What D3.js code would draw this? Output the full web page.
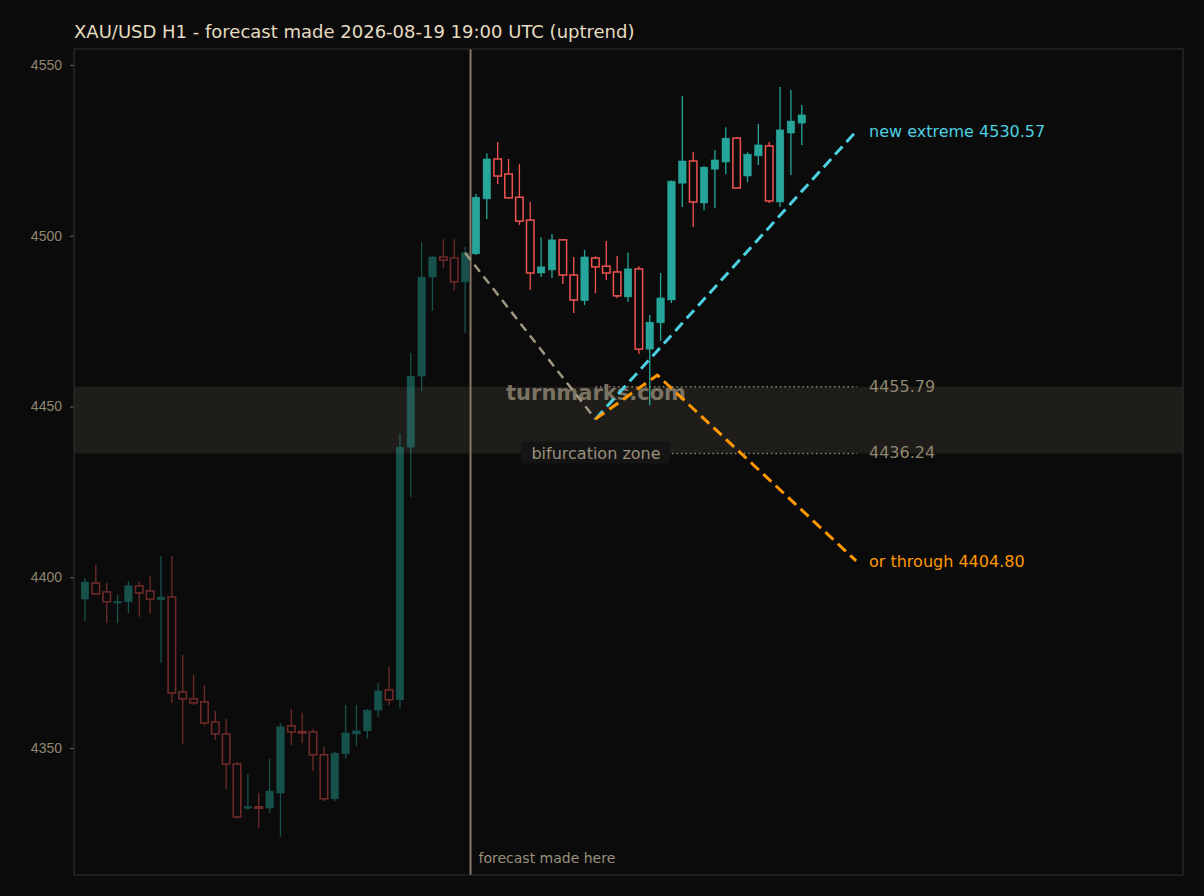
<!DOCTYPE html>
<html><head><meta charset="utf-8">
<script src="https://cdn.jsdelivr.net/npm/d3@7"></script>
<style>body{margin:0;background:#0b0b0b;}</style>
</head><body>
<script>
// OHLC candles, hourly
const opens  = [4393.6,4398.3,4395.7,4392.5,4392.8,4397.5,4396,4393.4,4394.2,4366.4,4364.4,4363.5,4357.6,4354.1,4345.3,4332.5,4332.8,4332.4,4336.8,4356.5,4354.8,4354.7,4348,4335.1,4348.3,4354.1,4355,4361.1,4367,4364.1,4438.1,4458.9,4487.9,4493.8,4493.5,4486.5,4494.7,4510.8,4522.5,4518.1,4511.3,4504.6,4489.1,4490,4498.8,4488.5,4481,4493.5,4491.1,4489.4,4482.1,4490.3,4466.8,4474.5,4481.2,4515.4,4521.9,4509.6,4519.5,4521.6,4528.6,4517.5,4523.4,4526.3,4509.9,4530.1,4533];
const highs  = [4399.8,4403.6,4398.3,4394.8,4398.9,4398.6,4400.4,4406.2,4406.2,4377.2,4371.4,4368.2,4360.8,4358.5,4345.9,4342.4,4336.8,4346.8,4357.3,4361.4,4360.3,4355.6,4350.3,4349,4362.6,4362.6,4361.4,4369,4373.7,4442,4465.7,4498.2,4494,4499,4499,4496.7,4512.2,4524.2,4527.5,4522.5,4521,4509.9,4499.6,4500.5,4499,4493.8,4495.8,4494,4498.5,4494.1,4495,4491.1,4476.8,4489.1,4516.2,4540.9,4524.5,4520.4,4525.1,4531.8,4528.9,4524.5,4532.7,4527.5,4543.6,4542.7,4538.3];
const lows   = [4387.2,4394.8,4386.6,4386.6,4389.5,4388.4,4389.2,4374.9,4363.2,4351.2,4362.6,4356.5,4352.4,4338,4329.2,4331.9,4326.6,4331,4324,4350.9,4351.5,4343.3,4334.5,4334.5,4346.8,4350.6,4352.9,4359.1,4362.6,4361.7,4423.5,4454.5,4478,4490.6,4484.1,4471.5,4494.4,4504.9,4515.2,4511,4503.2,4484.1,4487.9,4487.6,4485.9,4477.4,4479.7,4483.2,4487,4481.8,4480.6,4465.4,4450.4,4469.2,4480.3,4508.4,4502.6,4507.5,4508.1,4518.1,4514,4515.7,4520.7,4509.6,4508.4,4517.8,4526.6];
const closes = [4398.6,4395.1,4392.8,4392.9,4397.5,4395.4,4393.6,4394.2,4366.1,4364.4,4363.2,4357.3,4354.1,4345.3,4329.8,4332.8,4332.5,4337.4,4356.2,4354.7,4354.5,4348,4335.1,4348.5,4354.4,4355,4361.1,4366.7,4364.1,4438.1,4458.9,4487.9,4493.8,4492.9,4486.5,4495,4511.3,4522.5,4517.5,4511.1,4504.3,4489.1,4490.9,4498.8,4488.5,4481.2,4493.8,4490.9,4489.1,4482.4,4490.3,4466.8,4474.7,4481.8,4516,4521.9,4509.9,4520.1,4522.2,4528.6,4514,4523.9,4526.6,4510.2,4531,4533.6,4535.4];
const forecastIndex = 35.5;
const pathBase = [[35, 4495], [47, 4446.3]];
const pathUp = [[47, 4446.3], [71, 4530.57]];
const pathDown = [[47, 4446.3], [52.7, 4459.2], [71, 4404.80]];
const zoneLow = 4436.24, zoneHigh = 4455.79;
const yTicks = [4350, 4400, 4450, 4500, 4550];

const W = 1204, H = 896;
const m = {left: 74, right: 1183, top: 49, bottom: 875};
const svg = d3.select("body").append("svg").attr("width", W).attr("height", H)
  .style("font-family", "DejaVu Sans, sans-serif");
svg.append("rect").attr("width", W).attr("height", H).attr("fill", "#0b0b0b");

const x = d3.scaleLinear().domain([-1.01, 101.1]).range([m.left, m.right]);
const y = d3.scaleLinear().domain([4312.8, 4554.7]).range([m.bottom, m.top]);

//Title
svg.append("text").attr("x", 74).attr("y", 38).attr("fill", "#e6dcc0")
  .attr("font-size", 18).text("XAU/USD H1 - forecast made 2026-08-19 19:00 UTC (uptrend)");

//Zone
svg.append("rect").attr("x", m.left).attr("width", m.right - m.left)
  .attr("y", y(zoneHigh)).attr("height", y(zoneLow) - y(zoneHigh)).attr("fill", "#1f1d19");

//Y axis
const yAxis = d3.axisLeft(y).tickValues(yTicks).tickSize(4).tickFormat(d3.format("d"));
const ga = svg.append("g").attr("transform", "translate(" + m.left + ",0)").call(yAxis);
ga.select(".domain").remove();
ga.selectAll("line").attr("stroke", "#6e6658");
ga.selectAll("text").attr("fill", "#8f866f").attr("font-size", 14).attr("x", -12);

//Candles
const candles = opens.map((o, i) => ({i, o, h: highs[i], l: lows[i], c: closes[i]}));
const bw = 7.5;
const g = svg.append("g");
candles.forEach((d) => {
  const up = d.c >= d.o;
  const col = up ? "#26a69a" : "#ef5350";
  const op = d.i < forecastIndex ? 0.45 : 1;
  const cg = g.append("g").attr("opacity", op);
  cg.append("line").attr("x1", x(d.i)).attr("x2", x(d.i))
    .attr("y1", y(d.h)).attr("y2", y(d.l)).attr("stroke", col).attr("stroke-width", 1.3);
  const top = y(Math.max(d.o, d.c)), bot = y(Math.min(d.o, d.c));
  cg.append("rect").attr("x", x(d.i) - bw / 2).attr("width", bw)
    .attr("y", top).attr("height", Math.max(1.5, bot - top))
    .attr("fill", up ? col : "#0b0b0b").attr("stroke", col).attr("stroke-width", up ? 0.5 : 1.5);
});

//Forecast marker
svg.append("line").attr("x1", x(forecastIndex)).attr("x2", x(forecastIndex))
  .attr("y1", m.top).attr("y2", m.bottom).attr("stroke", "#857a66").attr("stroke-width", 2);
svg.append("text").attr("x", x(forecastIndex) + 8).attr("y", 863).attr("fill", "#9a907c")
  .attr("font-size", 14).text("forecast made here");

//Zone levels
[[zoneHigh, "4455.79"], [zoneLow, "4436.24"]].forEach(([v, t]) => {
  svg.append("line").attr("x1", x(47)).attr("x2", 857).attr("y1", y(v)).attr("y2", y(v))
    .attr("stroke", "#8a8270").attr("stroke-dasharray", "1.5,3").attr("stroke-width", 1.3);
  svg.append("text").attr("x", 869).attr("y", y(v) + 5).attr("fill", "#8f866f")
    .attr("font-size", 16).text(t);
});

//Watermark
svg.append("text").attr("x", 596).attr("y", y(4452)).attr("text-anchor", "middle")
  .attr("font-size", 21).attr("font-weight", "bold").attr("fill", "#8a8270").attr("opacity", 0.85)
  .text("turnmarks.com");

//Bifurcation label
svg.append("rect").attr("x", 521).attr("y", y(zoneLow) - 12).attr("width", 149).attr("height", 22)
  .attr("fill", "#141414").attr("rx", 2);
svg.append("text").attr("x", 596).attr("y", y(zoneLow) + 6).attr("text-anchor", "middle")
  .attr("font-size", 16).attr("fill", "#9a907c").text("bifurcation zone");

//Paths
const line = d3.line().x((d) => x(d[0])).y((d) => y(d[1]));
svg.append("path").attr("d", line(pathBase)).attr("fill", "none").attr("stroke", "#a09682")
  .attr("stroke-width", 2.5).attr("stroke-dasharray", "9,6");
svg.append("path").attr("d", line(pathUp)).attr("fill", "none").attr("stroke", "#4dd0e1")
  .attr("stroke-width", 3).attr("stroke-dasharray", "11,6");
svg.append("path").attr("d", line(pathDown)).attr("fill", "none").attr("stroke", "#ff9800")
  .attr("stroke-width", 3).attr("stroke-dasharray", "11,6");

svg.append("text").attr("x", 869).attr("y", y(4530.57) + 6).attr("fill", "#4dd0e1")
  .attr("font-size", 16).text("new extreme 4530.57");
svg.append("text").attr("x", 869).attr("y", y(4404.80) + 6).attr("fill", "#ff9800")
  .attr("font-size", 16).text("or through 4404.80");

//Frame
svg.append("rect").attr("x", m.left).attr("y", m.top).attr("width", m.right - m.left)
  .attr("height", m.bottom - m.top).attr("fill", "none").attr("stroke", "#333");
</script>
</body></html>
